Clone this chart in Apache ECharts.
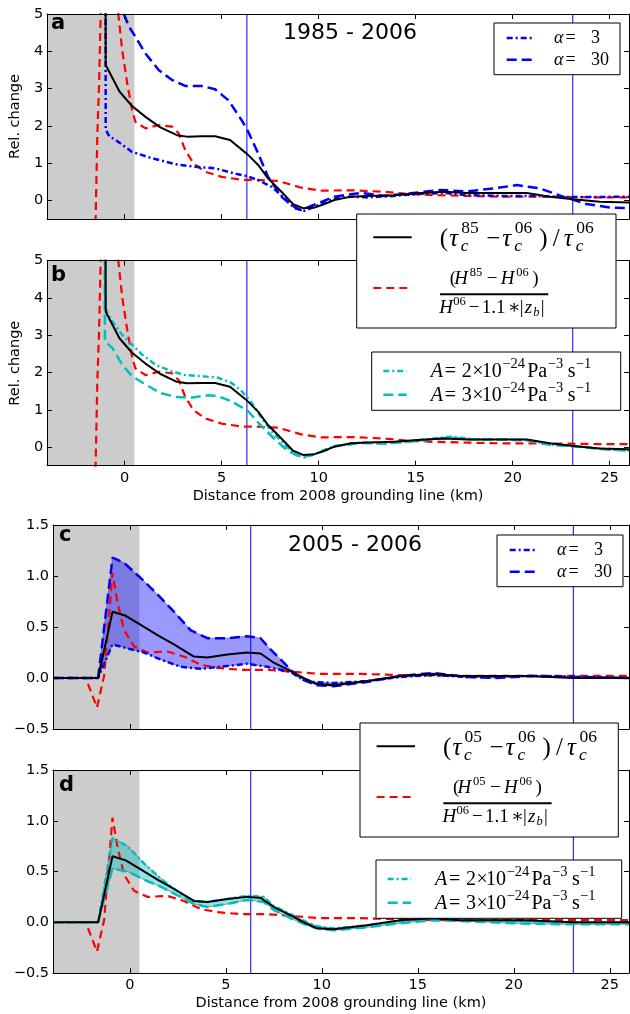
<!DOCTYPE html>
<html>
<head>
<meta charset="utf-8">
<script src="https://cdn.jsdelivr.net/npm/echarts@6/dist/echarts.min.js"></script>
<style>
  html, body { margin: 0; padding: 0; background: #fff; }
  #chart { width: 630px; height: 1014px; }
</style>
</head>
<body>
<div id="chart"></div>
<script>
// ---------- data (x in km from the 2008 grounding line, y = relative change) ----------
const xTicks = [0, 5, 10, 15, 20, 25];
const yTicksTop = [0, 1, 2, 3, 4, 5];
const yTicksBottom = [-0.5, 0, 0.5, 1.0, 1.5];
const groundingLines = [6.3, 23.1];
const shadeRange = [-4, 0.5];

// 1985 - 2006
const tau85 = [[-1.0, 9], [-0.98, 3.63], [-0.27, 2.92], [0.38, 2.53], [1.07, 2.24], [1.84, 1.96], [2.69, 1.75], [3.21, 1.71], [3.97, 1.72], [4.66, 1.72], [5.43, 1.62], [6.32, 1.24], [6.88, 0.95], [7.39, 0.59], [8.08, 0.23], [8.68, -0.10], [9.19, -0.21], [9.79, -0.19], [10.3, -0.10], [10.81, 0.01], [11.67, 0.10], [12.52, 0.12], [13.89, 0.14], [15.09, 0.19], [16.45, 0.23], [17.65, 0.20], [19.36, 0.20], [20.73, 0.20], [21.92, 0.10], [23.12, 0.03], [24.49, -0.04], [26, -0.06]];
const h85 = [[-1.6, -2], [-1.5, -0.5], [-1.41, 1.8], [-1.32, 3.14], [-1.24, 5], [-1.1, 8], [-0.55, 8], [-0.33, 5], [-0.13, 4.03], [0.13, 3.14], [0.38, 2.42], [0.55, 2.11], [1.07, 1.93], [1.75, 2.02], [2.44, 1.98], [2.78, 1.80], [3.12, 1.35], [3.55, 0.99], [4.14, 0.77], [5.0, 0.63], [6.03, 0.55], [6.71, 0.55], [7.91, 0.52], [9.10, 0.34], [10.13, 0.26], [11.67, 0.27], [13.37, 0.23], [14.57, 0.17], [15.94, 0.14], [17.65, 0.12], [19.36, 0.10], [21.0, 0.10], [22.78, 0.09], [24.49, 0.08], [26, 0.08]];
const alpha3_85 = [[-1.0, 12], [-0.98, 1.9], [-0.8, 1.72], [-0.47, 1.62], [0.38, 1.30], [1.41, 1.13], [2.61, 0.97], [3.63, 0.90], [4.66, 0.86], [5.68, 0.72], [6.32, 0.65], [6.88, 0.54], [7.56, 0.37], [8.25, 0.05], [8.76, -0.21], [9.27, -0.28], [9.96, -0.13], [10.81, 0.05], [11.67, 0.10], [12.52, 0.08], [13.89, 0.12], [15.09, 0.17], [16.45, 0.20], [17.65, 0.14], [19.36, 0.12], [21.07, 0.12], [22.78, 0.09], [24.49, 0.09], [26, 0.10]];
const alpha30_85 = [[-0.5, 7], [-0.04, 5.0], [0.22, 4.66], [0.55, 4.39], [1.07, 3.94], [1.75, 3.50], [2.44, 3.23], [3.12, 3.07], [3.97, 3.07], [4.66, 2.98], [5.34, 2.69], [6.03, 2.15], [6.37, 1.84], [6.88, 1.26], [7.39, 0.63], [8.08, 0.10], [8.59, -0.13], [9.10, -0.26], [9.96, -0.08], [10.81, 0.10], [12.18, 0.20], [13.37, 0.12], [14.74, 0.19], [16.28, 0.28], [17.65, 0.24], [19.02, 0.32], [20.22, 0.41], [21.41, 0.32], [22.60, 0.10], [23.80, -0.10], [25.0, -0.19], [26, -0.21]];
const rateA2_85 = [[-1.02, 12], [-1.0, 3.73], [-0.64, 3.37], [-0.13, 3.01], [0.38, 2.75], [0.90, 2.48], [1.58, 2.21], [2.44, 2.03], [3.12, 1.93], [3.97, 1.90], [4.83, 1.86], [5.51, 1.72], [6.03, 1.50], [6.54, 1.19], [7.05, 0.79], [7.56, 0.43], [8.25, 0.07], [8.76, -0.20], [9.27, -0.28], [9.96, -0.15], [10.81, 0.03], [12.18, 0.12], [13.37, 0.10], [14.74, 0.16], [15.94, 0.23], [16.8, 0.28], [18.0, 0.21], [19.36, 0.21], [20.73, 0.19], [21.92, 0.07], [23.12, 0.03], [24.49, -0.04], [26, -0.09]];
const rateA3_85 = [[-1.05, 12], [-1.02, 2.83], [-0.64, 2.66], [-0.13, 2.21], [0.38, 1.90], [1.07, 1.68], [1.84, 1.45], [2.69, 1.34], [3.38, 1.32], [4.31, 1.39], [4.83, 1.36], [5.51, 1.23], [6.37, 0.96], [7.05, 0.56], [7.74, 0.21], [8.42, -0.11], [9.10, -0.27], [9.79, -0.20], [10.81, 0.02], [12.18, 0.11], [13.37, 0.09], [14.74, 0.15], [15.94, 0.21], [16.8, 0.25], [18.0, 0.20], [19.36, 0.20], [20.73, 0.18], [21.92, 0.06], [23.12, 0.02], [24.49, -0.05], [26, -0.10]];

// 2005 - 2006
const tau05 = [[-4, 0], [-1.65, 0], [-0.90, 0.65], [-0.21, 0.61], [0.57, 0.52], [1.44, 0.42], [2.30, 0.33], [3.34, 0.21], [4.04, 0.20], [5.08, 0.23], [6.11, 0.25], [6.81, 0.24], [7.50, 0.15], [8.36, 0.07], [9.05, 0.0], [9.75, -0.06], [10.61, -0.07], [12.35, -0.03], [14.08, 0.02], [15.81, 0.04], [17.19, 0.02], [18.41, 0.02], [20.66, 0.02], [23.08, 0.0], [26, 0.0]];
const h05 = [[-4, 0], [-2.29, 0], [-1.71, -0.29], [-1.34, 0.02], [-0.90, 1.03], [-0.64, 0.74], [-0.30, 0.47], [0.22, 0.31], [0.92, 0.25], [1.96, 0.26], [2.82, 0.21], [3.69, 0.13], [4.56, 0.10], [5.77, 0.08], [7.15, 0.08], [8.54, 0.06], [9.92, 0.04], [12.0, 0.04], [14.0, 0.03], [17.0, 0.02], [20.0, 0.02], [26, 0.02]];
const alpha3_05 = [[-4, 0], [-1.65, 0], [-0.90, 0.33], [-0.12, 0.29], [0.74, 0.25], [1.61, 0.18], [2.65, 0.11], [3.69, 0.09], [4.73, 0.11], [6.11, 0.14], [7.15, 0.11], [8.36, 0.06], [8.88, 0.0], [9.58, -0.04], [10.61, -0.05], [12.35, -0.03], [14.08, 0.01], [15.81, 0.03], [17.5, 0.01], [19.0, 0.01], [21.0, 0.02], [23.5, 0.01], [26, 0.0]];
const alpha30_05 = [[-4, 0], [-1.65, 0], [-0.90, 1.18], [-0.30, 1.13], [0.57, 0.98], [1.44, 0.82], [2.30, 0.65], [3.16, 0.47], [4.04, 0.39], [5.08, 0.39], [6.11, 0.41], [6.81, 0.39], [7.33, 0.28], [8.02, 0.15], [8.54, 0.05], [9.05, -0.02], [9.75, -0.07], [10.61, -0.08], [12.35, -0.04], [14.08, 0.02], [15.81, 0.05], [17.5, 0.01], [19.0, 0.0], [21.0, 0.02], [23.5, 0.01], [26, 0.0]];
const rateA2_05 = [[-4, 0], [-1.65, 0], [-0.90, 0.83], [-0.12, 0.75], [0.74, 0.58], [1.61, 0.43], [2.65, 0.28], [3.34, 0.21], [4.04, 0.20], [5.08, 0.23], [6.11, 0.26], [6.98, 0.25], [7.50, 0.16], [8.36, 0.08], [9.23, 0.0], [9.75, -0.04], [10.61, -0.06], [12.35, -0.03], [14.08, 0.01], [15.81, 0.04], [17.5, 0.03], [20.0, 0.01], [22.4, 0.0], [24.5, -0.01], [26, 0.0]];
const rateA3_05 = [[-4, 0], [-1.65, 0], [-0.90, 0.53], [-0.12, 0.50], [0.74, 0.42], [1.61, 0.35], [2.65, 0.25], [3.34, 0.18], [4.04, 0.15], [5.08, 0.18], [6.11, 0.22], [6.98, 0.20], [7.50, 0.12], [8.36, 0.04], [9.23, -0.03], [9.75, -0.06], [10.61, -0.08], [12.35, -0.05], [14.08, -0.01], [15.81, 0.02], [17.5, 0.01], [20.0, -0.01], [22.4, -0.02], [24.5, -0.02], [26, -0.02]];

// ---------- styling ----------
const SANS = '"DejaVu Sans", sans-serif';
const SERIF = '"Liberation Serif", "DejaVu Serif", serif';
const RED = '#ff0000', BLUE = '#0000ff', CYAN = '#00bfbf', BLACK = '#000000';
const DASH_RED = [8, 5], DASH_BLUE = [10, 5], DASH_DOT = [6, 3, 2, 3];
const TICK_FONT = 14.5;

const grids = [
  { left: 45, top: 14, width: 584, height: 205 },
  { left: 45, top: 260.7, width: 584, height: 205 },
  { left: 53, top: 525, width: 576, height: 204 },
  { left: 53, top: 770, width: 576, height: 203 }
];
const yRanges = [[-0.5, 5], [-0.5, 5], [-0.5, 1.5], [-0.5, 1.5]];

const minus = s => String(s).replace('-', '\u2212');
const xAxes = [], yAxes = [];
grids.forEach((g, i) => {
  const showX = (i === 1 || i === 3);
  const upper = i < 2;
  const base = { type: 'value', gridIndex: i, min: -4, max: 26, z: 10,
    axisLine: { onZero: false, lineStyle: { color: BLACK, width: 1 } },
    axisTick: { inside: true, length: 5, customValues: xTicks, lineStyle: { color: BLACK } },
    splitLine: { show: false } };
  xAxes.push(Object.assign({}, base, { position: 'bottom',
    axisLabel: { show: showX, customValues: xTicks, margin: 5, color: BLACK, fontSize: TICK_FONT, fontFamily: SANS },
    name: showX ? 'Distance from 2008 grounding line (km)' : '', nameLocation: 'middle', nameGap: 23,
    nameTextStyle: { color: BLACK, fontSize: TICK_FONT, fontFamily: SANS } }));
  xAxes.push(Object.assign({}, base, { position: 'top', axisLabel: { show: false } }));
  const ticks = upper ? yTicksTop : yTicksBottom;
  const fmt = upper ? (v => String(v)) : (v => minus(v.toFixed(1)));
  const ya = { type: 'value', gridIndex: i, min: yRanges[i][0], max: yRanges[i][1], z: 10,
    axisLine: { show: true, onZero: false, lineStyle: { color: BLACK, width: 1 } },
    axisTick: { show: true, inside: true, length: 5, customValues: ticks, lineStyle: { color: BLACK } },
    splitLine: { show: false } };
  yAxes.push(Object.assign({}, ya, { position: 'left',
    axisLabel: { customValues: ticks, margin: 4, color: BLACK, fontSize: TICK_FONT, fontFamily: SANS, formatter: fmt },
    name: upper ? 'Rel. change' : '', nameLocation: 'middle', nameGap: 21,
    nameTextStyle: { color: BLACK, fontSize: TICK_FONT, fontFamily: SANS } }));
  yAxes.push(Object.assign({}, ya, { position: 'right', axisLabel: { show: false } }));
});

function line(i, data, color, width, dash, z) {
  return { type: 'line', xAxisIndex: 2 * i, yAxisIndex: 2 * i, data, symbol: 'none', showSymbol: false,
    silent: true, clip: true, z: z || 5, color,
    lineStyle: { color, width, type: dash || 'solid' } };
}
// grey shaded zone left of the 2008 grounding line, plus the blue marker lines
function backdrop(i) {
  return [
    { type: 'line', xAxisIndex: 2 * i, yAxisIndex: 2 * i, data: [], symbol: 'none', silent: true, z: 1,
      markArea: { silent: true, itemStyle: { color: '#cccccc' },
        data: [[{ xAxis: shadeRange[0] }, { xAxis: shadeRange[1] }]] } },
    { type: 'custom', xAxisIndex: 2 * i, yAxisIndex: 2 * i, data: groundingLines.map(x => [x, 0]),
      silent: true, clip: true, z: 2,
      renderItem: (params, api) => {
        const x = api.value(0);
        const a = api.coord([x, yRanges[i][0]]), b = api.coord([x, yRanges[i][1]]);
        return { type: 'line', shape: { x1: a[0], y1: a[1], x2: b[0], y2: b[1] },
          style: { stroke: BLUE, lineWidth: 1 } };
      } }
  ];
}
function band(i, upper, lower, fill) {
  return { type: 'custom', xAxisIndex: 2 * i, yAxisIndex: 2 * i, data: [[0, 0]], silent: true, clip: true, z: 3,
    renderItem: (params, api) => {
      const pts = upper.map(p => api.coord(p)).concat(lower.slice().reverse().map(p => api.coord(p)));
      return { type: 'polygon', shape: { points: pts },
        style: { fill, stroke: 'rgba(90,90,90,0.6)', lineWidth: 1 } };
    } };
}

const series = [
  ...backdrop(0),
  line(0, h85, RED, 2.2, DASH_RED),
  line(0, alpha3_85, BLUE, 2.5, DASH_DOT),
  line(0, alpha30_85, BLUE, 2.5, DASH_BLUE),
  line(0, tau85, BLACK, 2, 'solid', 6),
  ...backdrop(1),
  line(1, h85, RED, 2.2, DASH_RED),
  line(1, rateA2_85, CYAN, 2.5, DASH_DOT),
  line(1, rateA3_85, CYAN, 2.5, DASH_BLUE),
  line(1, tau85, BLACK, 2, 'solid', 6),
  ...backdrop(2),
  band(2, alpha30_05, alpha3_05, 'rgba(0,0,255,0.4)'),
  line(2, h05, RED, 2.2, DASH_RED),
  line(2, alpha3_05, BLUE, 2.5, DASH_DOT),
  line(2, alpha30_05, BLUE, 2.5, DASH_BLUE),
  line(2, tau05, BLACK, 2, 'solid', 6),
  ...backdrop(3),
  band(3, rateA2_05, rateA3_05, 'rgba(0,191,191,0.4)'),
  line(3, h05, RED, 2.2, DASH_RED),
  line(3, rateA2_05, CYAN, 2.5, DASH_DOT),
  line(3, rateA3_05, CYAN, 2.5, DASH_BLUE),
  line(3, tau05, BLACK, 2, 'solid', 6)
];

// ---------- legends and labels drawn as graphic elements ----------
// each math token: s = text, x = offset from the box's left edge, dy = offset from the row centre
const fontOf = t => (t.it ? 'italic ' : '') + t.f + 'px ' + SERIF;
function tokens(list, bx, y) {
  return list.map(t => ({ type: 'text', x: bx + t.x, y: y + (t.dy || 0), z: 101, silent: true,
    style: { text: t.s, font: fontOf(t), fill: BLACK, verticalAlign: 'middle', align: 'left' } }));
}
const box = (x, y, w, h) => ({ type: 'rect', z: 100, silent: true, shape: { x, y, width: w, height: h },
  style: { fill: '#fff', stroke: BLACK, lineWidth: 1 } });
const sample = (x1, x2, y, color, width, dash) => ({ type: 'line', z: 101, silent: true,
  shape: { x1, y1: y, x2, y2: y }, style: { stroke: color, lineWidth: width, lineDash: dash || null } });
const plain = (text, x, y, size, weight, align) => ({ type: 'text', x, y, z: 101, silent: true,
  style: { text, font: (weight || 'normal') + ' ' + size + 'px ' + SANS, fill: BLACK, verticalAlign: 'middle', align: align || 'left' } });

function alphaLegend(bx, by) {
  const row = v => [{ s: 'α', f: 18, it: 1, x: 60 }, { s: '=', f: 18, x: 71.5 }, { s: v, f: 18, x: 97 }];
  return [box(bx, by, 126, 51.7),
    sample(bx + 12.7, bx + 37.7, by + 15, BLUE, 2.5, DASH_DOT),
    sample(bx + 12.7, bx + 37.7, by + 36.7, BLUE, 2.5, DASH_BLUE),
    ...tokens(row('3'), bx, by + 15.5),
    ...tokens(row('30'), bx, by + 37)];
}
function rateLegend(bx, by, w) {
  const row = v => [
    { s: 'A', f: 20, it: 1, x: 59 }, { s: '=', f: 20, x: 73 }, { s: v, f: 20, x: 90 },
    { s: '×', f: 20, x: 100.5 }, { s: '10', f: 20, x: 110 }, { s: '−24', f: 14.5, x: 130.5, dy: -7 },
    { s: 'Pa', f: 20, x: 155.5 }, { s: '−3', f: 14.5, x: 176, dy: -7 },
    { s: 's', f: 20, x: 196 }, { s: '−1', f: 14.5, x: 204, dy: -7 }];
  return [box(bx, by, w, 58.3),
    sample(bx + 11.6, bx + 35, by + 19, CYAN, 2.5, DASH_DOT),
    sample(bx + 11.6, bx + 35, by + 42.7, CYAN, 2.5, DASH_BLUE),
    ...tokens(row('2'), bx, by + 19.3),
    ...tokens(row('3'), bx, by + 43.3)];
}
function ratioLegend(bx, by, w, h, yr) {
  const SUP = -11, SUB = 7;
  const tau = [
    { s: '(', f: 25, x: 83 }, { s: 'τ', f: 25, it: 1, x: 92.5 },
    { s: yr, f: 17.5, x: 104.5, dy: SUP }, { s: 'c', f: 17.5, it: 1, x: 104, dy: SUB },
    { s: '−', f: 25, x: 129.5 }, { s: 'τ', f: 25, it: 1, x: 145.5 },
    { s: '06', f: 17.5, x: 158, dy: SUP }, { s: 'c', f: 17.5, it: 1, x: 157.5, dy: SUB },
    { s: ')', f: 25, x: 182.5 }, { s: '/', f: 25, x: 196 }, { s: 'τ', f: 25, it: 1, x: 207 },
    { s: '06', f: 17.5, x: 219.5, dy: SUP }, { s: 'c', f: 17.5, it: 1, x: 219, dy: SUB }];
  const num = [
    { s: '(', f: 19, x: 93 }, { s: 'H', f: 19, it: 1, x: 97.5 }, { s: yr, f: 12.5, x: 113, dy: -6 },
    { s: '−', f: 19, x: 130 }, { s: 'H', f: 19, it: 1, x: 144 }, { s: '06', f: 12.5, x: 159.5, dy: -6 },
    { s: ')', f: 19, x: 175.5 }];
  const den = [
    { s: 'H', f: 19, it: 1, x: 82.5 }, { s: '06', f: 12.5, x: 96.5, dy: -6 }, { s: '−', f: 19, x: 112 },
    { s: '1.1', f: 19, x: 125 }, { s: '∗', f: 19, x: 151 }, { s: '|', f: 19, x: 163 },
    { s: 'z', f: 19, it: 1, x: 168 }, { s: 'b', f: 12.5, it: 1, x: 176.5, dy: 5 }, { s: '|', f: 19, x: 184 }];
  return [box(bx, by, w, h),
    sample(bx + 16.6, bx + 55, by + 23.3, BLACK, 2),
    sample(bx + 16.6, bx + 55, by + 74, RED, 2.2, DASH_RED),
    ...tokens(tau, bx, by + 25.7),
    ...tokens(num, bx, by + 65),
    { type: 'rect', z: 101, silent: true, shape: { x: bx + 83.3, y: by + 79.2, width: 108.3, height: 2 }, style: { fill: BLACK } },
    ...tokens(den, bx, by + 94)];
}

const graphic = [
  plain('a', 51, 24, 21, 'bold'),
  plain('b', 51, 276, 21, 'bold'),
  plain('c', 59, 536, 21, 'bold'),
  plain('d', 59, 785.5, 21, 'bold'),
  plain('1985 - 2006', 350, 33, 22, 'normal', 'center'),
  plain('2005 - 2006', 355, 545, 22, 'normal', 'center'),
  ...alphaLegend(494, 23),
  ...alphaLegend(497, 535),
  ...ratioLegend(356.7, 214, 259.3, 114, '85'),
  ...rateLegend(371.7, 352, 249),
  ...ratioLegend(360, 723, 258.3, 114, '05'),
  ...rateLegend(376, 860, 245.7)
];

const chart = echarts.init(document.getElementById('chart'), null, { renderer: 'canvas' });
chart.setOption({
  animation: false,
  backgroundColor: '#ffffff',
  grid: grids,
  xAxis: xAxes,
  yAxis: yAxes,
  series,
  graphic
});
</script>
</body>
</html>
